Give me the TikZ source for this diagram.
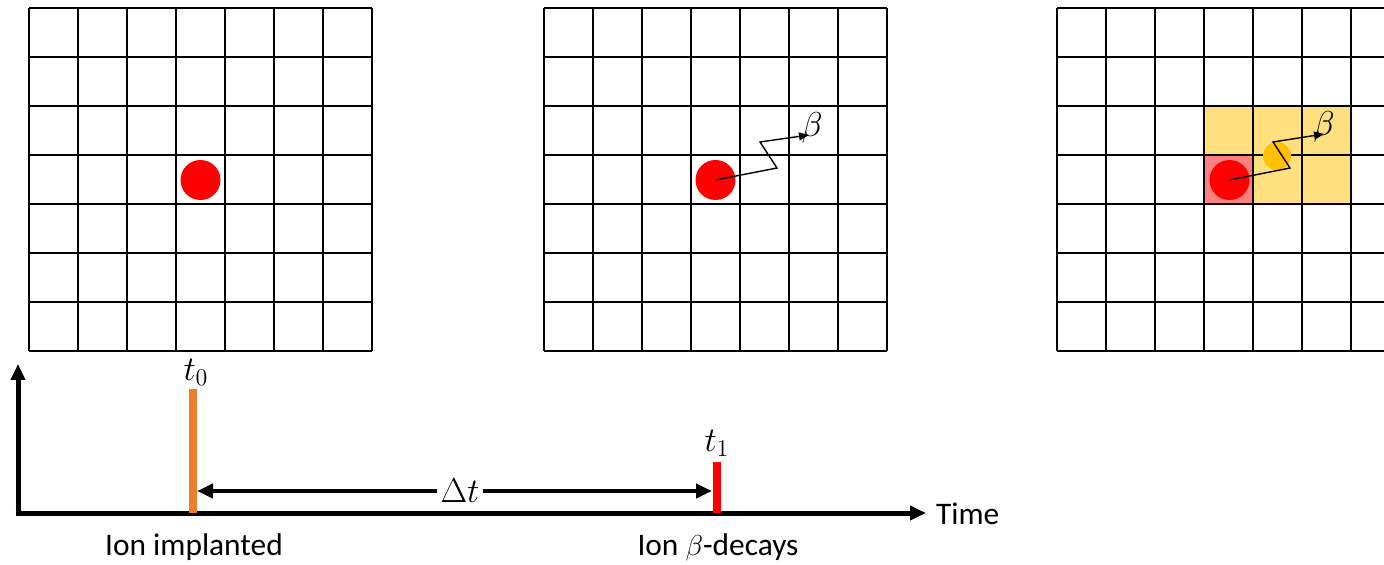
\documentclass[tikz,border=0pt]{standalone}
\usepackage{fontspec}
\setmainfont{Carlito}
\usetikzlibrary{arrows.meta}

\definecolor{ionred}{RGB}{255,0,0}
\definecolor{pixred}{RGB}{255,128,128}
\definecolor{pixyellow}{RGB}{255,223,128}
\definecolor{hitorange}{RGB}{255,192,0}
\definecolor{barorange}{RGB}{237,125,49}

\tikzset{
  gridline/.style={line width=1pt},
  ion/.style={circle,fill=ionred,minimum size=20pt,inner sep=0pt},
  hit/.style={circle,fill=hitorange,minimum size=14pt,inner sep=0pt},
  track/.style={line width=0.7pt,-{Triangle[length=5pt,width=4pt]}},
  axis/.style={line width=2.5pt,-{Triangle[length=8pt,width=7pt]}},
  bar/.style={line width=3.8pt},
  mathlbl/.style={font=\fontsize{18}{21}\selectfont},
}

\begin{document}
\begin{tikzpicture}[x=0.5pt,y=-0.5pt,>=latex,font=\fontsize{15.7}{19}\selectfont]
\useasboundingbox (0,0) rectangle (1384,565);

% fired pixels in the third detector
\fill[pixyellow] (1204,106) rectangle (1351,155);
\fill[pixyellow] (1253,155) rectangle (1351,204);
\fill[pixred] (1204,155) rectangle (1253,204);

% the three 7x7 detectors
\foreach \gx in {29,544,1057} {
  \foreach \i in {0,...,7} {
    \draw[gridline] (\gx+49*\i,8) -- (\gx+49*\i,351);
    \draw[gridline] (\gx,8+49*\i) -- (\gx+343,8+49*\i);
  }
}

% implanted ion
\node[ion] (ion1) at (200.5,180) {};
\node[ion] (ion2) at (715.5,180) {};
\node[hit] (hit3) at (1277,156) {};
\node[ion] (ion3) at (1229.5,180) {};

% beta tracks
\node[mathlbl] (beta2) at (812,128) {$\beta$};
\coordinate (kinkA2) at (777,168);
\coordinate (kinkB2) at (760,142);
\draw[track] (ion2.center) -- (kinkA2) -- (kinkB2) -- (809,135);

\node[mathlbl] (beta3) at (1324,127) {$\beta$};
\coordinate (kinkA3) at (1290,168);
\coordinate (kinkB3) at (1273,142);
\draw[track] (ion3.center) -- (kinkA3) -- (kinkB3) -- (1324,134);

% time axis
\coordinate (origin) at (18,513);
\coordinate (ytip) at (18,364);
\coordinate (xtip) at (926,513);
\draw[axis] (origin) -- (ytip);
\draw[axis] ([xshift=-1.25pt]origin) -- (xtip);
\node[anchor=west] (time) at (929,514) {Time};

\coordinate (implant) at (193,513);
\coordinate (decay) at (717,513);
\draw[bar,barorange] (implant) -- (193,389) coordinate (implanttop);
\draw[bar,ionred] (decay) -- (717,462) coordinate (decaytop);
\node[mathlbl,above=-2pt,xshift=1.5pt] (t0) at (implanttop) {$t_0$};
\node[mathlbl,above=-1pt] (t1) at (decaytop) {$t_1$};

\draw[line width=2pt,{Triangle[length=8pt,width=7pt]}-{Triangle[length=8pt,width=7pt]}]
  (197,491) -- (712,491);
\node[mathlbl,fill=white,inner sep=2pt] (dt) at (460,491) {$\Delta t$};

\node (implantlbl) at (194,547) {Ion implanted};
\node (decaylbl) at (718,547) {Ion $\beta$-decays};
\end{tikzpicture}
\end{document}
